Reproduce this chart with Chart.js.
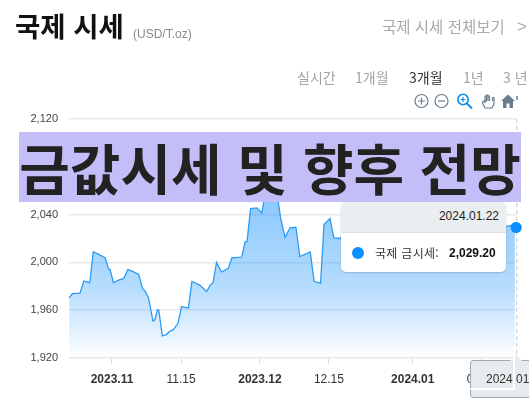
<!DOCTYPE html>
<html lang="ko"><head><meta charset="utf-8">
<style>
html,body{margin:0;padding:0;background:#fff;width:529px;height:404px;overflow:hidden;font-family:"Liberation Sans",Arial,sans-serif}
canvas{position:absolute;left:0;top:0}
.t{position:absolute;white-space:nowrap;line-height:1}
.k{font-family:"Noto Sans CJK KR","Noto Sans",sans-serif}
#banner{position:absolute;left:19px;top:132px;width:502px;height:70px;background:#c3bef7;color:#222;font:700 55px/68px "Noto Sans CJK KR",sans-serif;text-align:center;white-space:nowrap;overflow:hidden}
#tip{position:absolute;left:341px;top:202px;width:165px;height:70px;background:#fff;border-radius:5px;box-shadow:0 1px 2px rgba(0,0,0,.18);overflow:hidden}
#tipHead{height:30px;background:#ebeef0;border-bottom:1px solid #dcdfe1;font-size:12px;line-height:28px;text-align:right;padding-right:7px;color:#222}
#tipDot{position:absolute;left:11px;top:45px;width:12px;height:12px;border-radius:50%;background:#0a90ff}
#axisBox{position:absolute;left:470px;top:360px;width:70px;height:38px;background:#e8ebee;border:1px solid #9fabb3;border-radius:3px;box-sizing:border-box}
#axisArrow{position:absolute;left:510px;top:354px;width:0;height:0;border-left:6px solid transparent;border-right:6px solid transparent;border-bottom:7px solid #e8ebee}
#wv{position:absolute;left:513px;top:345px;width:2px;height:44px;background:#fff}
#wh{position:absolute;left:470px;top:388px;width:45px;height:2px;background:#fff}
</style></head><body>
<canvas id="c" width="529" height="404"></canvas>
<div class="t k" style="left:15px;top:12px;font-size:27.5px;font-weight:700;color:#111">국제 시세</div>
<div class="t" style="left:133px;top:28px;font-size:12px;color:#8a8a8a">(USD/T.oz)</div>
<div class="t k" style="left:382px;top:19px;font-size:15.5px;color:#aaa">국제 시세 전체보기</div>
<div class="t" style="left:517px;top:18px;font-size:17px;color:#aaa">&gt;</div>
<div class="t k" style="left:297px;top:70px;font-size:14px;color:#a3a3a3">실시간</div>
<div class="t k" style="left:355px;top:70px;font-size:14px;color:#a3a3a3">1개월</div>
<div class="t k" style="left:409px;top:70px;font-size:14px;color:#333">3개월</div>
<div class="t k" style="left:463px;top:70px;font-size:14px;color:#a3a3a3">1년</div>
<div class="t k" style="left:503px;top:70px;font-size:14px;color:#a3a3a3">3 년</div>
<svg style="position:absolute;left:412px;top:92px" width="110" height="20" fill="none">
<g stroke="#6b7c8c" stroke-width="1.2"><circle cx="9.5" cy="9" r="6.5"/><path d="M6 9h7M9.5 5.5v7"/><circle cx="29.5" cy="9" r="6.5"/><path d="M26 9h7"/></g>
<g stroke="#0a90e8" stroke-width="2"><circle cx="51" cy="7.5" r="5.2" stroke-width="1.6"/><path d="M55 11.5l5 5"/><path d="M48.5 7.5h5M51 5v5" stroke-width="1.2"/></g>
<path d="M70 10l3 6h7l2-4V5.500h-1.500V9M77.500 9V4h-1.500v5M76 9V3h-1.500v6M74.500 9V4H73v6.500L71 9z" stroke="#6b7c8c" stroke-width="1.2" stroke-linejoin="round"/>
<path d="M89 9l7-6.500 7 6.500h-2v7h-3.500v-4.500h-3V16H91V9z" fill="#6b7c8c"/>
<path d="M105 8v-4" stroke="#6b7c8c" stroke-width="1.5"/>
</svg>
<div id="tip"><div id="tipHead"></div><div id="tipDot"></div>
<div class="t k" id="tipName" style="left:34px;top:45px;font-size:12px;letter-spacing:.3px;color:#333"></div>
<div class="t" id="tipVal" style="left:108px;top:45px;font-size:12px;font-weight:700;color:#111"></div></div>
<div id="axisBox"></div><div id="axisArrow"></div>
<div class="t" id="axisLabel" style="left:486px;top:373px;font-size:12px;color:#333"></div>
<div id="wv"></div><div id="wh"></div>
<div id="banner">금값시세 및 향후 전망</div>
<script src="https://cdn.jsdelivr.net/npm/chart.js@4"></script>
<script>
const seriesName = "국제 금시세";
const lastDate = "2024.01.22";
const axisCaption = "2024 01";
// days since 2023-11-01
const dayOffsets = [-8.7,-8,-6.5,-5.7,-4.5,-3.8,-2.6,-1.4,-0.7,-0.4,0.3,1.2,2.4,3.2,4.2,5.4,6.2,6.6,7.4,8.3,8.7,9.2,9.5,10.2,11,11.8,12.4,13.4,14.1,15.5,16.2,17.8,19.2,19.9,20.5,21.2,22.2,23.6,24.3,26.3,27,27.4,28.1,29.4,30.4,30.8,31.2,32.5,33.3,33.7,34.2,35.1,36.1,37.3,38.1,40.2,41,42.3,43,44.2,45,46.4,47.9,49.5,51.5,53.6,56,58.4,60.9,62.5,64.9,67.3,69.8,72.2,74.7,76.7,78.1,79.8,81,82];
const goldPrices = [1970.6,1973.8,1974.3,1984.4,1983,2009,2006.5,2004,1994.5,1994,1983,1985,1986.6,1994,1992.5,1990,1978,1976.5,1970.5,1951,1952,1960.3,1960,1938.5,1939.6,1942.5,1943.5,1949,1963,1961.8,1984,1981,1975.7,1981,1983,2000,1992,1995,2003.7,2004.5,2017,2017.6,2045,2045.6,2041.4,2051,2075,2072,2065,2051,2037,2021,2029,2029.4,2004.8,2008.7,1984,1982.6,2031.6,2036.6,2020.5,2020,2042,2050,2045,2060,2066,2071,2065,2042,2035,2045,2028,2033,2053,2022,2019,2030,2031,2029.2];
const tickDays = [0,14,30,44,61,75];
const tickLabels = ["2023.11","11.15","2023.12","12.15","2024.01","01.15"];
const majorLabels = ["2023.11","2023.12","2024.01"];
const yTicks = [1920,1960,2000,2040,2080,2120];

document.getElementById('tipHead').textContent = lastDate;
document.getElementById('tipName').textContent = seriesName + ":";
document.getElementById('tipVal').textContent = goldPrices[goldPrices.length-1].toLocaleString('en-US',{minimumFractionDigits:2});
document.getElementById('axisLabel').textContent = axisCaption;

const crosshair = {
  id:'crosshair',
  afterDatasetsDraw(chart){
    const {ctx,chartArea} = chart;
    const pt = chart.getDatasetMeta(0).data[goldPrices.length-1];
    ctx.save();
    ctx.strokeStyle='#fff';ctx.lineWidth=2;
    ctx.beginPath();ctx.moveTo(pt.x-0.5,pt.y);ctx.lineTo(pt.x-0.5,chartArea.bottom);ctx.stroke();
    ctx.strokeStyle='#c3c8cc';ctx.lineWidth=1;ctx.setLineDash([4,3]);
    ctx.beginPath();ctx.moveTo(pt.x+0.5,chartArea.top);ctx.lineTo(pt.x+0.5,chartArea.bottom);ctx.stroke();
    ctx.restore();
    pt.draw(ctx);
  }
};

new Chart(document.getElementById('c'),{
  type:'line',
  data:{datasets:[{
    label:seriesName,
    data:dayOffsets.map((d,i)=>({x:d,y:goldPrices[i]})),
    borderColor:'#2a9bf6',borderWidth:1.3,tension:0,
    pointRadius:c=>c.dataIndex===goldPrices.length-1?5.5:0,
    pointBackgroundColor:'#0a90ff',pointBorderWidth:0,
    fill:'start',
    backgroundColor:c=>{
      const a=c.chart.chartArea; if(!a) return 'rgba(10,140,250,.4)';
      const g=c.chart.ctx.createLinearGradient(0,a.top+80,0,a.bottom);
      g.addColorStop(0,'rgba(10,140,250,.47)');
      g.addColorStop(0.55,'rgba(10,140,250,.3)');
      g.addColorStop(0.82,'rgba(10,140,250,.13)');
      g.addColorStop(1,'rgba(10,140,250,0)');
      return g;
    }
  }]},
  options:{
    responsive:false,animation:false,
    layout:{padding:{top:119,right:12.7,left:0,bottom:0}},
    plugins:{legend:{display:false},tooltip:{enabled:false}},
    scales:{
      x:{type:'linear',min:-8.72,max:82,
        afterBuildTicks:s=>{s.ticks=tickDays.map(v=>({value:v}))},
        afterFit:s=>{s.height=46},
        grid:{drawOnChartArea:false,drawTicks:true,tickLength:6,color:'#dcdcdc'},
        border:{display:false},
        ticks:{autoSkip:false,maxRotation:0,padding:8,color:'#333',
          callback:v=>tickLabels[tickDays.indexOf(v)],
          font:c=>({family:'"Liberation Sans"',size:12,weight:majorLabels.includes(tickLabels[c.index])?'700':'400'})}
      },
      y:{min:1920,max:2120,
        afterBuildTicks:s=>{s.ticks=yTicks.map(v=>({value:v}))},
        afterFit:s=>{s.width=69},
        grid:{color:'#e8e8e8',lineWidth:1.5,tickLength:0},
        border:{display:false},
        ticks:{padding:11,color:'#444',font:{family:'"Liberation Sans"',size:11},
          callback:v=>v.toLocaleString('en-US')}
      }
    }
  },
  plugins:[crosshair]
});
</script>
</body></html>
